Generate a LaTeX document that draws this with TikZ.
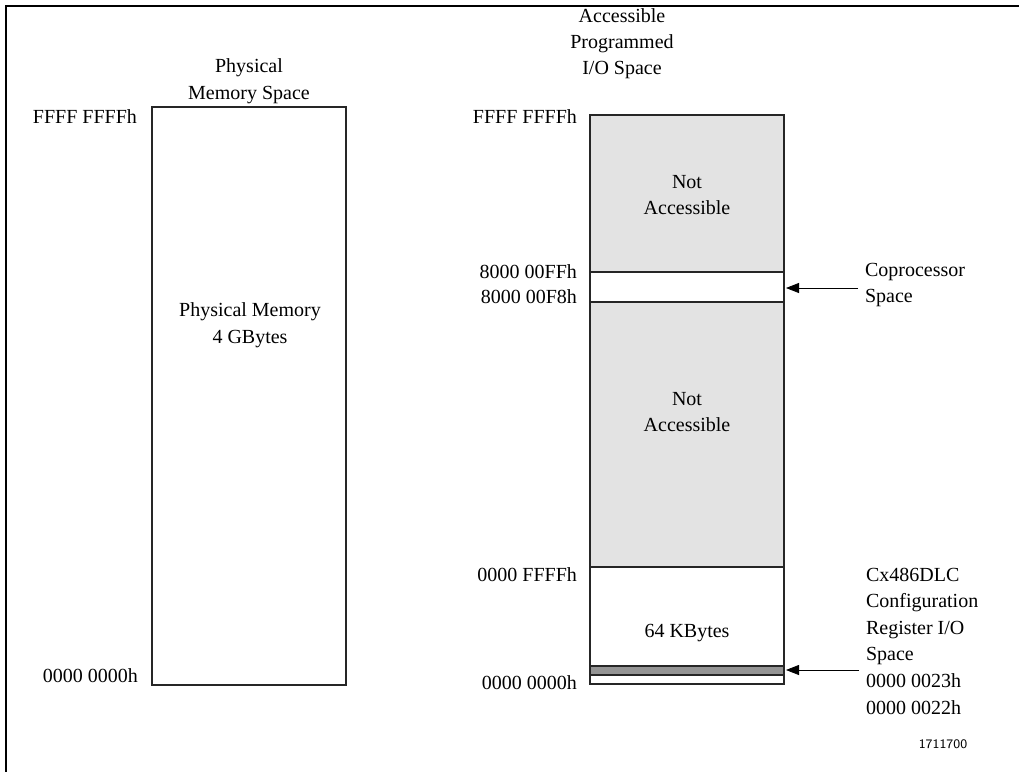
\documentclass[tikz,border=0pt]{standalone}
\usepackage{fontspec}
\setmainfont{Liberation Serif}
\usepackage{tikz}
\usetikzlibrary{arrows.meta, positioning}

\begin{document}
\begin{tikzpicture}[x=0.5pt, y=-0.5pt, font=\fontsize{10}{13.3}\selectfont]
  \useasboundingbox (0,0) rectangle (1019,772);
  % page frame, only top and left edges show
  \draw[line width=0.9pt] (6,772) -- (6,6) -- (1019,6);

  % physical memory space
  \draw[black!85, line width=0.6pt] (152,107) rectangle (346,685);
  \node[align=center] (physhead) at (249,81) {Physical\\Memory Space};
  \node[align=center] (physmem) at (250,325) {Physical Memory\\4 GBytes};
  \node[anchor=east] (ptop) at (144,117) {FFFF FFFFh};
  \node[anchor=east] (pbot) at (145,676) {0000 0000h};

  % programmed I/O space
  \fill[black!11] (590,115) rectangle (784,272);
  \fill[black!11] (590,302) rectangle (784,567);
  \fill[black!42] (590,666) rectangle (784,675);
  \draw[black!85, line width=0.6pt] (590,115) rectangle (784,684);
  \foreach \y in {272, 302, 567, 666, 675}
    \draw[black!85, line width=0.6pt] (590,\y) -- (784,\y);
  \node[align=center, font=\fontsize{10}{13}\selectfont] (iohead) at (622,44)
    {Accessible\\Programmed\\I/O Space};
  \node[align=center] (na1) at (687,195) {Not\\Accessible};
  \node[align=center] (na2) at (687,412) {Not\\Accessible};
  \node (kb) at (687,633) {64 KBytes};
  \foreach \y/\lab in {117/FFFF FFFFh, 272/8000 00FFh, 297/8000 00F8h,
                       575/0000 FFFFh, 683/0000 0000h}
    \node[anchor=east] (io\y) at (584,\y) {\lab};

  % pointers
  \coordinate (copband) at (786,288);
  \coordinate (cfgband) at (786,670);
  \node[anchor=west, align=left] (coplab) at (858,285) {Coprocessor\\Space};
  \node[anchor=west, align=left] (cfglab) at (859,641)
    {Cx486DLC\\Configuration\\Register I/O\\Space\\0000 0023h\\0000 0022h};
  \draw[-{Triangle[length=6.5pt,width=5pt]}] (coplab.west |- copband) -- (copband);
  \draw[-{Triangle[length=6.5pt,width=5pt]}] (cfglab.west |- cfgband) -- (cfgband);

  \node[font=\fontsize{6.5}{8}\sffamily] (fignum) at (943,744) {1711700};
\end{tikzpicture}
\end{document}
